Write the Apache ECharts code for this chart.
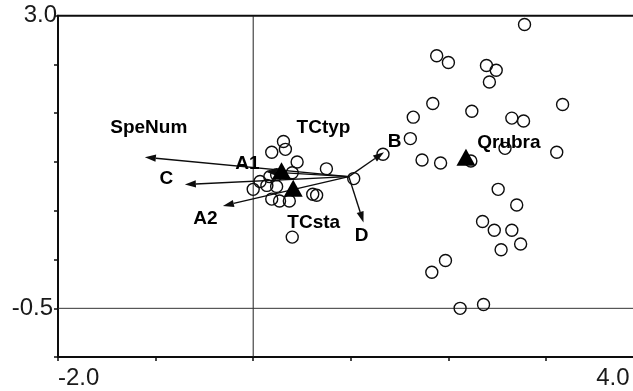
<!DOCTYPE html>
<html>
<head>
<meta charset="utf-8">
<script src="https://cdn.jsdelivr.net/npm/echarts@6/dist/echarts.min.js"></script>
<style>
  html, body { margin: 0; padding: 0; background: #ffffff; }
  #chart { width: 633px; height: 391px; }
</style>
</head>
<body>
<div id="chart"></div>
<script>
// Axis extents and end labels
const xMin = -2, xMax = 4;
const yMin = -0.5, yMax = 3;
const xTickLabels = ['-2.0', '4.0'];
const yTickLabels = ['-0.5', '3.0'];

// Sample (site) scores
const siteX = [2.78, 1.88, 2.00, 2.39, 2.49, 2.42, 1.84, 1.64, 2.24, 3.17,
               2.65, 2.77, 1.61, 2.58, 3.11, 1.33, 1.73, 1.92, 2.23, 2.51,
               2.70, 2.35, 2.47, 2.65, 2.74, 2.54, 1.97, 1.83, 2.12, 2.36,
               1.03, 0.75, 0.45, 0.31, 0.33, 0.19, 0.40, 0.61, 0.65, 0.40,
               0.19, 0.27, 0.37, 0.24, 0.17, 0.07, 0.00, 0.14, 0.24];
const siteY = [2.91, 2.59, 2.52, 2.49, 2.44, 2.32, 2.10, 1.96, 2.02, 2.09,
               1.95, 1.92, 1.74, 1.64, 1.60, 1.58, 1.52, 1.49, 1.51, 1.22,
               1.06, 0.89, 0.80, 0.80, 0.66, 0.60, 0.49, 0.37, 0.00, 0.04,
               1.33, 1.43, 1.50, 1.71, 1.63, 1.60, 1.39, 1.17, 1.16, 0.73,
               1.12, 1.10, 1.10, 1.37, 1.35, 1.30, 1.22, 1.26, 1.25];

// Centroids of the nominal variables
const centroidX = [0.29, 0.41, 2.18];
const centroidY = [1.41, 1.23, 1.55];

// Environmental variable arrows, all drawn from one base point
const arrowBase = [0.98, 1.35];
const arrowNames = ['SpeNum', 'C', 'A2', 'A1', 'B', 'D'];
const arrowTipX = [-1.11, -0.70, -0.31, 0.13, 1.34, 1.13];
const arrowTipY = [1.55, 1.27, 1.05, 1.40, 1.60, 0.88];

// Variable labels and their anchor points
const labelNames = ['SpeNum', 'TCtyp', 'A1', 'C', 'A2', 'TCsta', 'D', 'B', 'Qrubra'];
const labelX = [-1.07, 0.72, -0.06, -0.89, -0.49, 0.62, 1.11, 1.45, 2.62];
const labelY = [1.85, 1.85, 1.48, 1.33, 0.92, 0.88, 0.74, 1.71, 1.70];

const FONT = '"Liberation Sans", Arial, Helvetica, sans-serif';
const INK = '#0d0d0d';

const chart = echarts.init(document.getElementById('chart'), null, { renderer: 'canvas' });

const arrowData = arrowNames.map((n, i) => ({
  name: n,
  value: [arrowBase[0], arrowBase[1], arrowTipX[i], arrowTipY[i]]
}));

chart.setOption({
  animation: false,
  backgroundColor: '#ffffff',
  grid: {
    left: 58, right: -10.6, top: 15.7, bottom: 33.9,
    outerBoundsMode: 'none', containLabel: false,
    show: true, borderColor: INK, borderWidth: 2, backgroundColor: 'transparent'
  },
  xAxis: {
    type: 'value', min: xMin, max: xMax, interval: 1,
    axisLine: { show: true, onZero: false, lineStyle: { color: INK, width: 2 } },
    axisTick: { show: true, length: 4, lineStyle: { color: INK, width: 1.5 } },
    splitLine: { show: false },
    axisLabel: {
      show: true, margin: 9, fontSize: 24, fontFamily: FONT, color: '#1a1a1a',
      alignMinLabel: 'left', alignMaxLabel: 'right',
      formatter: v => v === xMin ? xTickLabels[0] : (v === xMax ? '{r|' + xTickLabels[1] + '}' : ''),
      rich: { r: { fontSize: 24, fontFamily: FONT, color: '#1a1a1a', padding: [0, 14, 0, 0] } }
    }
  },
  yAxis: {
    type: 'value', min: yMin, max: yMax, interval: 0.5,
    axisLine: { show: true, onZero: false, lineStyle: { color: INK, width: 2 } },
    axisTick: { show: true, length: 4, lineStyle: { color: INK, width: 1.5 } },
    splitLine: { show: false },
    axisLabel: {
      show: true, margin: 1, fontSize: 24, fontFamily: FONT, color: '#1a1a1a',
      formatter: v => v === yMax ? yTickLabels[1] : (v === yMin ? '{m|' + yTickLabels[0] + '}' : ''),
      rich: { m: { fontSize: 24, fontFamily: FONT, color: '#1a1a1a', padding: [0, 4, 98, 0] } }
    }
  },
  series: [
    {
      // zero lines
      type: 'line', silent: true, symbol: 'none', z: 1,
      data: [[0, yMin], [0, yMax]],
      lineStyle: { color: '#222', width: 1 }
    },
    {
      type: 'line', silent: true, symbol: 'none', z: 1,
      data: [[xMin, 0], [xMax, 0]],
      lineStyle: { color: '#333', width: 1 }
    },
    {
      // arrows
      type: 'custom', silent: true, z: 3,
      data: arrowData,
      renderItem: (params, api) => {
        const b = api.coord([api.value(0), api.value(1)]);
        const t = api.coord([api.value(2), api.value(3)]);
        const dx = t[0] - b[0], dy = t[1] - b[1];
        const len = Math.hypot(dx, dy);
        const ux = dx / len, uy = dy / len;
        const hl = 11, hw = 3.6;
        const hx = t[0] - ux * hl, hy = t[1] - uy * hl;
        return {
          type: 'group',
          children: [
            { type: 'line', shape: { x1: b[0], y1: b[1], x2: hx, y2: hy },
              style: { stroke: INK, lineWidth: 1.4 } },
            { type: 'polygon',
              shape: { points: [[t[0], t[1]], [hx - uy * hw, hy + ux * hw], [hx + uy * hw, hy - ux * hw]] },
              style: { fill: INK } }
          ]
        };
      }
    },
    {
      // sample scores
      type: 'scatter', silent: true, z: 4,
      symbol: 'circle', symbolSize: 12,
      itemStyle: { color: 'rgba(0,0,0,0)', borderColor: INK, borderWidth: 1.4, opacity: 1 },
      data: siteX.map((x, i) => [x, siteY[i]])
    },
    {
      // nominal variable centroids
      type: 'scatter', silent: true, z: 5,
      symbol: 'triangle', symbolSize: [19, 17],
      itemStyle: { color: '#000', opacity: 1 },
      data: centroidX.map((x, i) => [x, centroidY[i]])
    },
    {
      // variable labels
      type: 'scatter', silent: true, z: 6,
      symbolSize: 1, itemStyle: { color: 'rgba(0,0,0,0)', opacity: 1 },
      label: {
        show: true, position: 'inside', formatter: p => p.name, opacity: 1,
        fontFamily: FONT, fontWeight: 'bold', fontSize: 19, color: '#000'
      },
      data: labelNames.map((n, i) => ({ name: n, value: [labelX[i], labelY[i]] }))
    }
  ]
});
</script>
</body>
</html>
